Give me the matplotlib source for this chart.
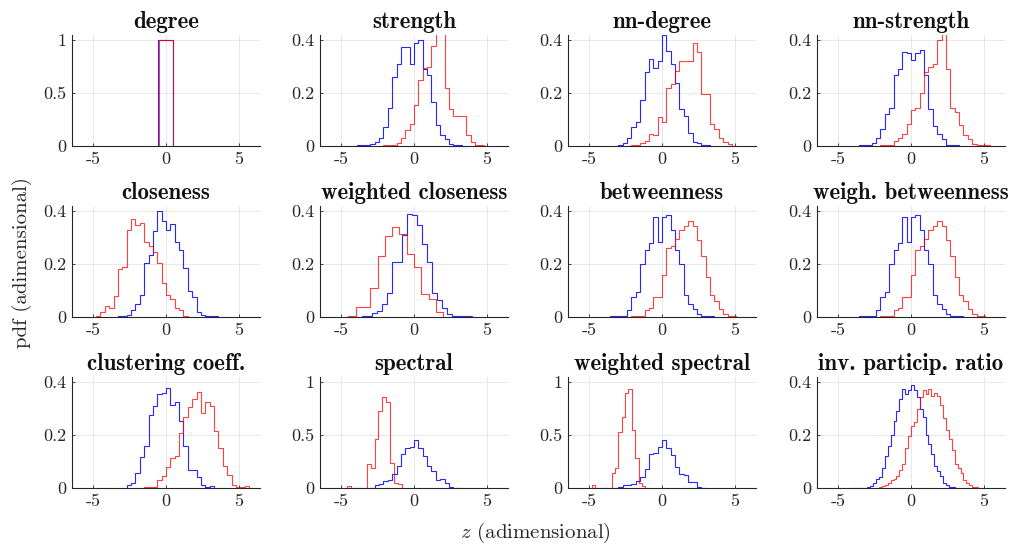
import numpy as np
import matplotlib
matplotlib.use('Agg')
import matplotlib.pyplot as plt

plt.rcParams['mathtext.fontset'] = 'cm'
plt.rcParams['axes.unicode_minus'] = False

# panel titles, row by row
titles = ['degree', 'strength', 'nn-degree', 'nn-strength',
          'closeness', 'weighted closeness', 'betweenness', 'weigh. betweenness',
          'clustering coeff.', 'spectral', 'weighted spectral', 'inv. particip. ratio']

# each series: (first bin edge, bin width, pdf heights)
# blue series
degree_b = (-0.55, 1.05, [1.0])
strength_b = (-3.9, 0.3, [0.002, 0.002, 0.003, 0.008, 0.015, 0.03, 0.07, 0.145, 0.26, 0.31, 0.375, 0.375,
                          0.31, 0.39, 0.40, 0.29, 0.27, 0.165, 0.08, 0.04, 0.027, 0.006, 0.003, 0.002])
nndegree_b = (-3.0, 0.3, [0.003, 0.01, 0.03, 0.07, 0.09, 0.175, 0.28, 0.33, 0.295, 0.32, 0.42, 0.36,
                          0.31, 0.24, 0.14, 0.115, 0.05, 0.015, 0.01, 0.003, 0.002])
nnstrength_b = (-3.6, 0.3, [0.002, 0.002, 0.003, 0.012, 0.03, 0.065, 0.12, 0.145, 0.27, 0.29, 0.355, 0.35,
                            0.325, 0.35, 0.365, 0.27, 0.14, 0.075, 0.045, 0.025, 0.005, 0.002, 0.002])
closeness_b = (-3.3, 0.3, [0.003, 0.003, 0.008, 0.026, 0.05, 0.083, 0.203, 0.234, 0.325, 0.40, 0.362, 0.328,
                           0.353, 0.284, 0.255, 0.187, 0.10, 0.077, 0.02, 0.008, 0.004, 0.002, 0.002])
wcloseness_b = (-3.57, 0.343, [0.003, 0.003, 0.015, 0.022, 0.05, 0.09, 0.21, 0.21, 0.31, 0.39, 0.385, 0.35,
                               0.275, 0.21, 0.09, 0.065, 0.033, 0.013, 0.004, 0.002, 0.002, 0.002])
betweenness_b = (-3.6, 0.3, [0.002, 0.003, 0.003, 0.004, 0.025, 0.075, 0.095, 0.20, 0.255, 0.28, 0.38, 0.285,
                             0.38, 0.385, 0.33, 0.255, 0.20, 0.085, 0.05, 0.03, 0.01, 0.005, 0.003, 0.002])
wbetweenness_b = (-3.6, 0.3, [0.002, 0.003, 0.003, 0.004, 0.025, 0.075, 0.095, 0.20, 0.255, 0.28, 0.38, 0.285,
                              0.38, 0.385, 0.33, 0.255, 0.20, 0.085, 0.05, 0.03, 0.01, 0.005, 0.003, 0.002])
clustering_b = (-2.7, 0.3, [0.01, 0.02, 0.057, 0.117, 0.16, 0.275, 0.31, 0.355, 0.36, 0.38, 0.315, 0.325,
                            0.254, 0.16, 0.067, 0.067, 0.042, 0.01, 0.005, 0.006])
spectral_b = (-3.0, 0.3, [0.003, 0.03, 0.04, 0.065, 0.08, 0.13, 0.21, 0.32, 0.38, 0.39, 0.455, 0.375,
                          0.30, 0.21, 0.16, 0.08, 0.085, 0.045, 0.008, 0.003, 0.002])
wspectral_b = (-3.3, 0.3, [0.003, 0.005, 0.025, 0.03, 0.04, 0.07, 0.10, 0.18, 0.32, 0.33, 0.39, 0.45,
                           0.38, 0.31, 0.20, 0.13, 0.125, 0.06, 0.06, 0.01, 0.003])
ipr_b = (-4.2, 0.2, [0.0015, 0.0015, 0.0015, 0.0015, 0.0015, 0.0015, 0.003, 0.008, 0.02, 0.035, 0.04, 0.075,
                     0.12, 0.16, 0.20, 0.255, 0.29, 0.335, 0.375, 0.355, 0.37, 0.39, 0.37, 0.345, 0.30,
                     0.27, 0.20, 0.165, 0.13, 0.085, 0.065, 0.045, 0.02, 0.01, 0.005, 0.002, 0.001])

# red series
degree_r = (-0.45, 0.9, [1.0])
strength_r = (-2.1, 0.3, [0.002, 0.002, 0.003, 0.012, 0.03, 0.06, 0.085, 0.157, 0.25, 0.295, 0.30, 0.38,
                          0.5, 0.5, 0.22, 0.14, 0.115, 0.115, 0.115, 0.04, 0.015, 0.005, 0.003])
nndegree_r = (-2.1, 0.3, [0.002, 0.003, 0.012, 0.018, 0.045, 0.04, 0.11, 0.09, 0.22, 0.235, 0.285, 0.32,
                          0.32, 0.32, 0.39, 0.355, 0.195, 0.195, 0.085, 0.065, 0.03, 0.015, 0.008])
nnstrength_r = (-2.1, 0.3, [0.002, 0.002, 0.003, 0.02, 0.03, 0.045, 0.085, 0.135, 0.145, 0.20, 0.28, 0.30,
                            0.31, 0.40, 0.5, 0.29, 0.145, 0.13, 0.08, 0.04, 0.025, 0.008, 0.003, 0.002, 0.002])
closeness_r = (-4.8, 0.3, [0.005, 0.02, 0.04, 0.035, 0.08, 0.18, 0.19, 0.33, 0.37, 0.35, 0.355, 0.283,
                           0.27, 0.247, 0.203, 0.127, 0.083, 0.07, 0.035, 0.026, 0.003])
wcloseness_r = (-4.5, 0.5, [0.002, 0.036, 0.036, 0.11, 0.23, 0.305, 0.34, 0.315, 0.24, 0.19, 0.088, 0.07, 0.018])
betweenness_r = (-2.1, 0.3, [0.003, 0.005, 0.003, 0.025, 0.035, 0.075, 0.077, 0.16, 0.26, 0.27, 0.295, 0.33,
                             0.345, 0.365, 0.345, 0.29, 0.23, 0.15, 0.085, 0.06, 0.03, 0.012, 0.004, 0.003])
wbetweenness_r = (-2.1, 0.3, [0.003, 0.005, 0.003, 0.025, 0.035, 0.075, 0.077, 0.16, 0.255, 0.27, 0.295, 0.33,
                              0.345, 0.365, 0.345, 0.29, 0.23, 0.15, 0.085, 0.06, 0.03, 0.012, 0.004, 0.003])
clustering_r = (-1.5, 0.3, [0.003, 0.005, 0.003, 0.03, 0.045, 0.08, 0.115, 0.12, 0.21, 0.27, 0.305, 0.335,
                            0.365, 0.285, 0.325, 0.31, 0.215, 0.15, 0.085, 0.05, 0.01, 0.005, 0.002, 0.006])
spectral_r = (-4.6, 0.27, [0.022, 0.0, 0.0, 0.0, 0.0, 0.224, 0.19, 0.465, 0.725, 0.86, 0.815, 0.235, 0.05, 0.04])
wspectral_r = (-4.83, 0.23, [0.03, 0.0, 0.0, 0.0, 0.0, 0.0, 0.145, 0.19, 0.53, 0.67, 0.90, 0.94, 0.55, 0.28,
                             0.05, 0.015])
ipr_r = (-2.2, 0.2, [0.003, 0.008, 0.01, 0.02, 0.03, 0.035, 0.045, 0.07, 0.09, 0.15, 0.195, 0.235, 0.25,
                     0.30, 0.345, 0.37, 0.355, 0.375, 0.35, 0.36, 0.35, 0.315, 0.265, 0.22, 0.185, 0.145,
                     0.09, 0.075, 0.055, 0.03, 0.018, 0.012, 0.004, 0.002])

blues = [degree_b, strength_b, nndegree_b, nnstrength_b, closeness_b, wcloseness_b,
         betweenness_b, wbetweenness_b, clustering_b, spectral_b, wspectral_b, ipr_b]
reds = [degree_r, strength_r, nndegree_r, nnstrength_r, closeness_r, wcloseness_r,
        betweenness_r, wbetweenness_r, clustering_r, spectral_r, wspectral_r, ipr_r]
# panels whose y axis goes to 1
tall = [0, 9, 10]

W, H = 1010, 546
fig = plt.figure(figsize=(W / 100, H / 100), dpi=100)

col_left = [72, 320, 568, 817]
row_bottom = [146, 317, 488]
ax_w, ax_h = 188, 111

def edges_of(s):
  x0, w, h = s
  return x0 + w * np.arange(len(h) + 1)

for i in range(12):
  r, c = divmod(i, 4)
  ax = fig.add_axes([col_left[c] / W, 1 - row_bottom[r] / H, ax_w / W, ax_h / H])
  ax.stairs(blues[i][2], edges_of(blues[i]), color='#0000ff', lw=0.8, alpha=0.85)
  ax.stairs(reds[i][2], edges_of(reds[i]), color='#ff0000', lw=0.8, alpha=0.75)
  ax.set_xlim(-6.45, 6.45)
  ax.set_xticks([-5, 0, 5])
  ax.set_xticklabels(['-5', '0', '5'])
  if i in tall:
    ax.set_ylim(0, 1.05)
    ax.set_yticks([0, 0.5, 1])
    ax.set_yticklabels(['0', '0.5', '1'])
  else:
    ax.set_ylim(0, 0.42)
    ax.set_yticks([0, 0.2, 0.4])
    ax.set_yticklabels(['0', '0.2', '0.4'])
  ax.grid(True, color='#e4e4e4', lw=0.6)
  ax.set_axisbelow(True)
  for side in ['top', 'right']:
    ax.spines[side].set_visible(False)
  for side in ['left', 'bottom']:
    ax.spines[side].set_color('#262626')
    ax.spines[side].set_linewidth(0.8)
  ax.tick_params(direction='in', length=2, width=0.6, color='#262626', labelcolor='#262626',
                 labelsize=13, pad=4)
  for lab in ax.get_xticklabels() + ax.get_yticklabels():
    lab.set_family('cmr10')
  ax.set_title(titles[i], family='cmb10', fontsize=16.5, color='#111111', pad=5)

fig.text(0.022, 0.52, 'pdf (adimensional)', rotation=90, ha='center', va='center',
         family='cmr10', fontsize=15, color='#262626')
fig.text(0.53, 0.024, r'$z$ (adimensional)', ha='center', va='center',
         family='cmr10', fontsize=15, color='#262626')

fig.savefig('out.png', dpi=100)
